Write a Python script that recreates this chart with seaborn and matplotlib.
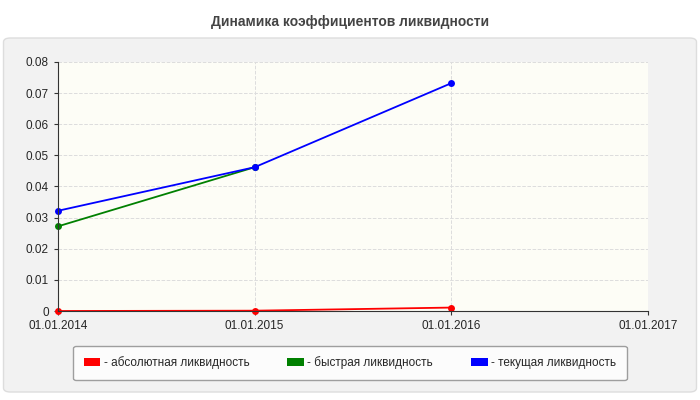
import matplotlib
matplotlib.use("Agg")
import matplotlib.pyplot as plt
import seaborn as sns
import pandas as pd
from matplotlib.patches import FancyBboxPatch

dates = ["01.01.2014", "01.01.2015", "01.01.2016"]
x_ticks = ["01.01.2014", "01.01.2015", "01.01.2016", "01.01.2017"]
absolute = [0.0, 0.0001, 0.0011]
quick = [0.0272, 0.0462, None]
current = [0.0322, 0.0462, 0.0732]

series = {
    "- абсолютная ликвидность": (absolute, "#ff0000"),
    "- быстрая ликвидность": (quick, "#008000"),
    "- текущая ликвидность": (current, "#0000ff"),
}

sns.set_style("white")
plt.rcParams["font.family"] = ["Liberation Sans", "DejaVu Sans"]

fig = plt.figure(figsize=(7, 4), dpi=100)
fig.patch.set_facecolor("white")
bg = FancyBboxPatch((0.005, 0.02), 0.99, 0.885, boxstyle="round,pad=0,rounding_size=0.01",
                    transform=fig.transFigure, facecolor="#f2f2f2", edgecolor="#dddddd", zorder=-10)
fig.patches.append(bg)
fig.text(0.5, 0.945, "Динамика коэффициентов ликвидности", ha="center", va="center",
         fontsize=10, fontweight="bold", color="#444444")

ax = fig.add_axes([58 / 700, 1 - 311 / 400, 590 / 700, 249 / 400])
ax.set_zorder(5)
ax.set_facecolor("#fdfdf6")

rows = []
for name, (vals, color) in series.items():
    for i, v in enumerate(vals):
        if v is not None:
            rows.append({"x": i, "y": v, "series": name})
df = pd.DataFrame(rows)
palette = {k: c for k, (v, c) in series.items()}
sns.lineplot(data=df, x="x", y="y", hue="series", palette=palette, marker="o",
             markersize=5, markeredgewidth=0, linewidth=1.3, ax=ax, legend=False)
for line in ax.lines:
    line.set_clip_on(False)

ax.set_xlim(0, 3)
ax.set_ylim(0, 0.08)
ax.set_xticks(range(4))
ax.set_xticklabels(x_ticks, fontsize=8.5)
ax.set_yticks([i / 100 for i in range(9)])
ax.set_yticklabels(["0"] + [f"{i / 100:.2f}" for i in range(1, 9)], fontsize=8.5)
ax.set_xlabel("")
ax.set_ylabel("")
ax.grid(True, color="#dddddd", linestyle="--", linewidth=0.7)
ax.tick_params(length=3, color="#333333", bottom=True, left=True)
for s in ["top", "right"]:
    ax.spines[s].set_visible(False)
for s in ["left", "bottom"]:
    ax.spines[s].set_color("#333333")
    ax.spines[s].set_linewidth(0.8)

handles = [plt.Rectangle((0, 0), 1, 1, facecolor=c, edgecolor="none") for (v, c) in series.values()]
leg = fig.legend(handles, list(series.keys()), loc="center", bbox_to_anchor=(0.5, 1 - 363 / 400),
                 ncol=3, fontsize=8.5, frameon=True, handlelength=1.4, handleheight=0.7,
                 columnspacing=3.2, handletextpad=0.3, borderpad=0.9, fancybox=True)
leg.get_frame().set_edgecolor("#888888")
leg.get_frame().set_facecolor("white")

fig.savefig("out.png", dpi=100)
